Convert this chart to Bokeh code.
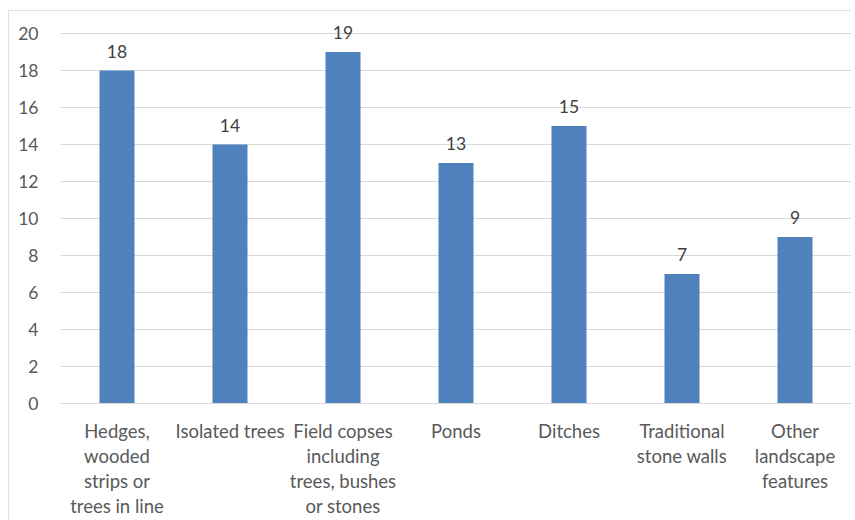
from bokeh.plotting import figure
from bokeh.models import ColumnDataSource, Range1d, FixedTicker, LabelSet
from bokeh.core.properties import value
from bokeh.embed import file_html
from bokeh.resources import INLINE

categories = [
    "Hedges,\nwooded\nstrips or\ntrees in line",
    "Isolated trees",
    "Field copses\nincluding\ntrees, bushes\nor stones",
    "Ponds",
    "Ditches",
    "Traditional\nstone walls",
    "Other\nlandscape\nfeatures",
]
values = [18, 14, 19, 13, 15, 7, 9]
y_ticks = [0, 2, 4, 6, 8, 10, 12, 14, 16, 18, 20]

FONT = "Lato"
TXT = "#595959"

src = ColumnDataSource(dict(cat=categories, val=values, lab=[str(v) for v in values]))

# 20 units span 370 px; a little head room above the top gridline keeps labels unclipped
p = figure(
    x_range=categories, y_range=Range1d(0, 20 * 392 / 370),
    frame_width=791, frame_height=392,
    output_backend="svg", toolbar_location=None,
    min_border_left=52, min_border_right=0, min_border_top=1, min_border_bottom=10,
    outline_line_color=None, background_fill_color="white", border_fill_color="white",
    styles={"margin-left": "8px", "margin-top": "10px",
            "outline": "1px solid #d9d9d9", "outline-offset": "-1px"},
)
p.vbar(x="cat", top="val", width=0.31, source=src, fill_color="#4F81BD", line_color=None)

labels = LabelSet(x="cat", y="val", text="lab", source=src, text_align="center",
                  text_baseline="alphabetic", y_offset=13, text_font=value(FONT),
                  text_font_size="17.5px", text_color="#404040")
p.add_layout(labels)

p.yaxis.ticker = FixedTicker(ticks=y_ticks)
p.yaxis.axis_line_color = None
p.yaxis.major_tick_line_color = None
p.yaxis.minor_tick_line_color = None
p.yaxis.major_label_standoff = 16
p.yaxis.major_label_text_font = FONT
p.yaxis.major_label_text_font_size = "17.5px"
p.yaxis.major_label_text_color = TXT

p.xaxis.axis_line_color = "#d9d9d9"
p.xaxis.major_tick_line_color = None
p.xaxis.minor_tick_line_color = None
p.xaxis.major_label_standoff = 10
p.xaxis.major_label_text_font = FONT
p.xaxis.major_label_text_font_size = "18.5px"
p.xaxis.major_label_text_color = TXT
p.xaxis.major_label_text_line_height = 1.15

p.xgrid.grid_line_color = None
p.ygrid.grid_line_color = "#d9d9d9"
p.ygrid.grid_line_width = 1

open("out.html", "w").write(file_html(p, INLINE))
